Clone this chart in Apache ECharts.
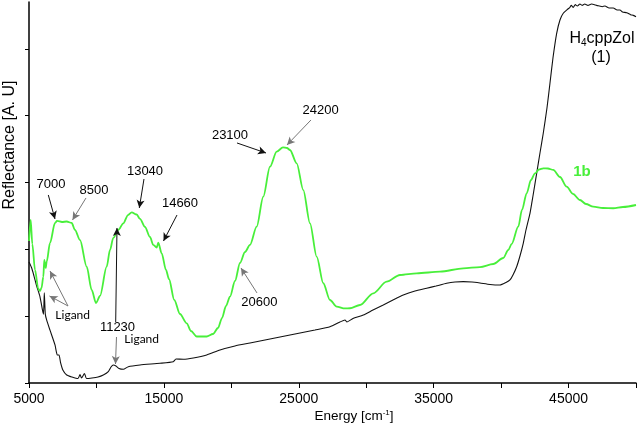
<!DOCTYPE html>
<html>
<head>
<meta charset="utf-8">
<script src="https://cdn.jsdelivr.net/npm/echarts@6/dist/echarts.min.js"></script>
<style>html,body{margin:0;padding:0;background:#fff}#c{width:638px;height:433px}</style>
</head>
<body>
<div id="c"></div>
<script>
// ---- data ----
var energyH4 = [5000,5200,5371,5571,5815,6001,6075,6134,6208,6312,6557,6927,7098,7224,7335,7520,7795,8188,8632,8781,8892,9114,9263,9670,10115,10508,10879,11079,11249,11449,11672,11991,12361,13228,14711,15697,15897,16438,17180,18173,19159,20271,21383,22495,23607,25090,26202,27313,28055,28425,28574,29018,29782,30501,31264,31983,32747,33614,34481,35171,35965,36580,37195,37840,38433,39174,39915,40360,40656,40879,41153,41398,41642,41843,42140,42362,42636,42881,43125,43400,43622,43844,44119,44364,44608,44956,45100,45200,45349,45500,45650,45846,46000,46200,46439,46700,47084,47300,47500,47699,48000,48315,48600,48811,49000,49308,49600,49800,50000];
var reflH4 = [1.81,1.72,1.60,1.45,1.29,1.09,1.03,1.35,1.03,0.94,0.79,0.57,0.42,0.42,0.31,0.19,0.12,0.09,0.067,0.127,0.075,0.142,0.067,0.075,0.09,0.12,0.17,0.24,0.27,0.254,0.217,0.205,0.244,0.269,0.295,0.319,0.359,0.355,0.374,0.419,0.494,0.554,0.598,0.643,0.688,0.748,0.793,0.842,0.913,0.943,0.913,0.965,1.017,1.092,1.167,1.242,1.317,1.376,1.417,1.451,1.492,1.511,1.516,1.511,1.496,1.474,1.466,1.504,1.541,1.616,1.740,1.900,2.090,2.289,2.539,2.798,3.137,3.441,3.736,4.114,4.484,4.862,5.232,5.431,5.531,5.595,5.62,5.65,5.62,5.66,5.64,5.67,5.65,5.67,5.65,5.67,5.65,5.64,5.63,5.64,5.61,5.61,5.58,5.58,5.55,5.54,5.51,5.50,5.48];

var energy1b = [5000,5126,5245,5445,5689,5815,5927,6060,6134,6238,6312,6557,6927,7076,7446,7795,8165,8410,8781,9277,9648,9967,10263,10760,11004,11249,11620,11991,12339,12613,12984,13228,13599,13970,14214,14467,14585,14837,15156,15378,15771,16194,16690,17009,17432,18173,18640,19011,19307,19604,19900,20271,20642,21012,21383,21879,22369,22865,23362,23829,24126,24348,24845,25334,25831,26327,26817,27313,27810,28425,28796,29537,30523,31516,32502,33740,35468,37195,38433,39419,40160,40531,40783,41272,41546,41895,42214,42510,42807,43125,43474,43867,44364,44860,45327,45846,46291,46832,47551,48315,49034,50000];
var refl1b = [2.124,2.439,2.080,1.691,1.406,1.376,1.421,1.586,1.840,1.721,1.815,2.095,2.394,2.424,2.409,2.416,2.394,2.289,2.139,1.740,1.391,1.197,1.302,1.740,1.990,2.169,2.289,2.389,2.513,2.554,2.521,2.454,2.334,2.184,2.065,2.027,2.099,1.940,1.691,1.556,1.242,1.032,0.893,0.778,0.696,0.696,0.733,0.823,0.972,1.152,1.291,1.526,1.795,1.960,2.065,2.338,2.787,3.236,3.461,3.526,3.516,3.486,3.287,2.887,2.389,1.890,1.492,1.242,1.142,1.115,1.118,1.167,1.342,1.516,1.616,1.641,1.665,1.716,1.735,1.780,1.870,1.990,2.080,2.338,2.588,2.838,3.037,3.137,3.194,3.212,3.209,3.187,3.082,2.937,2.828,2.738,2.678,2.638,2.618,2.614,2.633,2.663];

var xTickLabels = [5000, 15000, 25000, 35000, 45000];
var yTicks = [0, 1, 2, 3, 4, 5];

// annotations: [label, textEnergy, textRefl, fontKind]
var annoTexts = [
  ['7000', 6631, 2.977, 'n'], ['8500', 9818, 2.887, 'n'], ['13040', 13599, 3.172, 'n'],
  ['14660', 16194, 2.693, 'n'], ['11230', 11560, 0.838, 'n'], ['Ligand', 13355, 0.651, 'l'],
  ['Ligand', 8240, 1.017, 'l'], ['23100', 19900, 3.710, 'n'], ['24200', 26624, 4.074, 'n'],
  ['20600', 22072, 1.201, 'n']
];
// arrows: [fromE, fromR, toE, toR, colour]
var annoArrows = [
  [6431, 2.813, 6927, 2.454, '#111'], [9225, 2.768, 8225, 2.439, '#777'],
  [13525, 3.052, 13177, 2.618, '#111'], [15971, 2.513, 14971, 2.124, '#111'],
  [11427, 0.913, 11523, 2.319, '#111'], [11486, 0.688, 11412, 0.284, '#777'],
  [7891, 1.152, 6557, 1.676, '#777'], [7891, 1.152, 6520, 1.302, '#777'],
  [20419, 3.591, 22569, 3.441, '#111'], [25905, 3.935, 24126, 3.561, '#777'],
  [21902, 1.347, 20716, 1.721, '#777']
];

function pairs(xs, ys) { return xs.map(function (x, i) { return [x, ys[i]]; }); }

var chart = echarts.init(document.getElementById('c'), null, { renderer: 'canvas' });
var font = '"Liberation Sans", Arial, sans-serif';

var option = {
  animation: false,
  backgroundColor: '#fff',
  grid: { left: 29, right: 2, top: 2, bottom: 50 },
  xAxis: {
    type: 'value', min: 5000, max: 50000, interval: 5000,
    axisLine: { show: true, onZero: false, lineStyle: { color: '#000', width: 1.5 } },
    axisTick: { show: true, length: 5, lineStyle: { color: '#000', width: 1 } },
    axisLabel: {
      show: true, customValues: xTickLabels, margin: 9,
      formatter: function (v) { return String(v); },
      color: '#000', fontSize: 14, fontFamily: font
    },
    splitLine: { show: false }
  },
  yAxis: {
    type: 'value', min: 0, max: 5.7,
    axisLine: { show: true, lineStyle: { color: '#000', width: 1.5 } },
    axisTick: { show: true, length: 4, customValues: yTicks, lineStyle: { color: '#000', width: 1 } },
    axisLabel: { show: false },
    splitLine: { show: false }
  },
  series: [
    {
      name: 'H4cppZol', type: 'line', data: pairs(energyH4, reflH4),
      showSymbol: false, smooth: 0.2, lineStyle: { color: '#111', width: 1.1 },
      z: 3
    },
    {
      name: '1b', type: 'line', data: pairs(energy1b, refl1b),
      showSymbol: false, smooth: 0.3, smoothMonotone: 'x', lineStyle: { color: '#48ef3a', width: 1.8 },
      z: 4,
      markLine: {
        silent: true, symbol: ['none', 'arrow'], symbolSize: [6, 8], precision: 6,
        label: { show: false },
        data: annoArrows.map(function (a) {
          return [
            { coord: [a[0], a[1]], lineStyle: { color: a[4], width: 1, type: 'solid' } },
            { coord: [a[2], a[3]] }
          ];
        })
      },
      markPoint: {
        silent: true,
        data: annoTexts.map(function (t) {
          return {
            coord: [t[1], t[2]], symbol: 'circle', symbolSize: 0,
            label: {
              show: true, position: 'inside', formatter: t[0], color: '#000',
              fontSize: t[3] === 'l' ? 12 : 13,
              fontFamily: t[3] === 'l' ? 'Lato, "Open Sans", sans-serif' : font
            }
          };
        })
      }
    }
  ],
  graphic: [
    {
      type: 'text', x: 9.5, y: 145, rotation: Math.PI / 2,
      style: { text: 'Reflectance [A. U]', font: '16px ' + font, fill: '#000', align: 'center', verticalAlign: 'middle' }
    },
    {
      type: 'text', x: 354, y: 416,
      style: {
        text: '{a|Energy [cm}{s|-1}{a|]}', align: 'center', verticalAlign: 'middle',
        rich: {
          a: { fontSize: 13.5, fontFamily: font, fill: '#000', color: '#000' },
          s: { fontSize: 8, fontFamily: font, fill: '#000', color: '#000', padding: [0, 0, 7, 0] }
        }
      }
    },
    {
      type: 'text', x: 602, y: 39,
      style: {
        text: '{a|H}{s|4}{a|cppZol}', align: 'center', verticalAlign: 'middle',
        rich: {
          a: { fontSize: 16, fontFamily: font, fill: '#000', color: '#000' },
          s: { fontSize: 10, fontFamily: font, fill: '#000', color: '#000', padding: [8, 0, 0, 0] }
        }
      }
    },
    {
      type: 'text', x: 601, y: 58,
      style: { text: '(1)', font: '16px ' + font, fill: '#000', align: 'center', verticalAlign: 'middle' }
    },
    {
      type: 'text', x: 582, y: 172,
      style: { text: '1b', font: 'bold 15px ' + font, fill: '#48ef3a', align: 'center', verticalAlign: 'middle' }
    }
  ]
};
chart.setOption(option);
</script>
</body>
</html>
